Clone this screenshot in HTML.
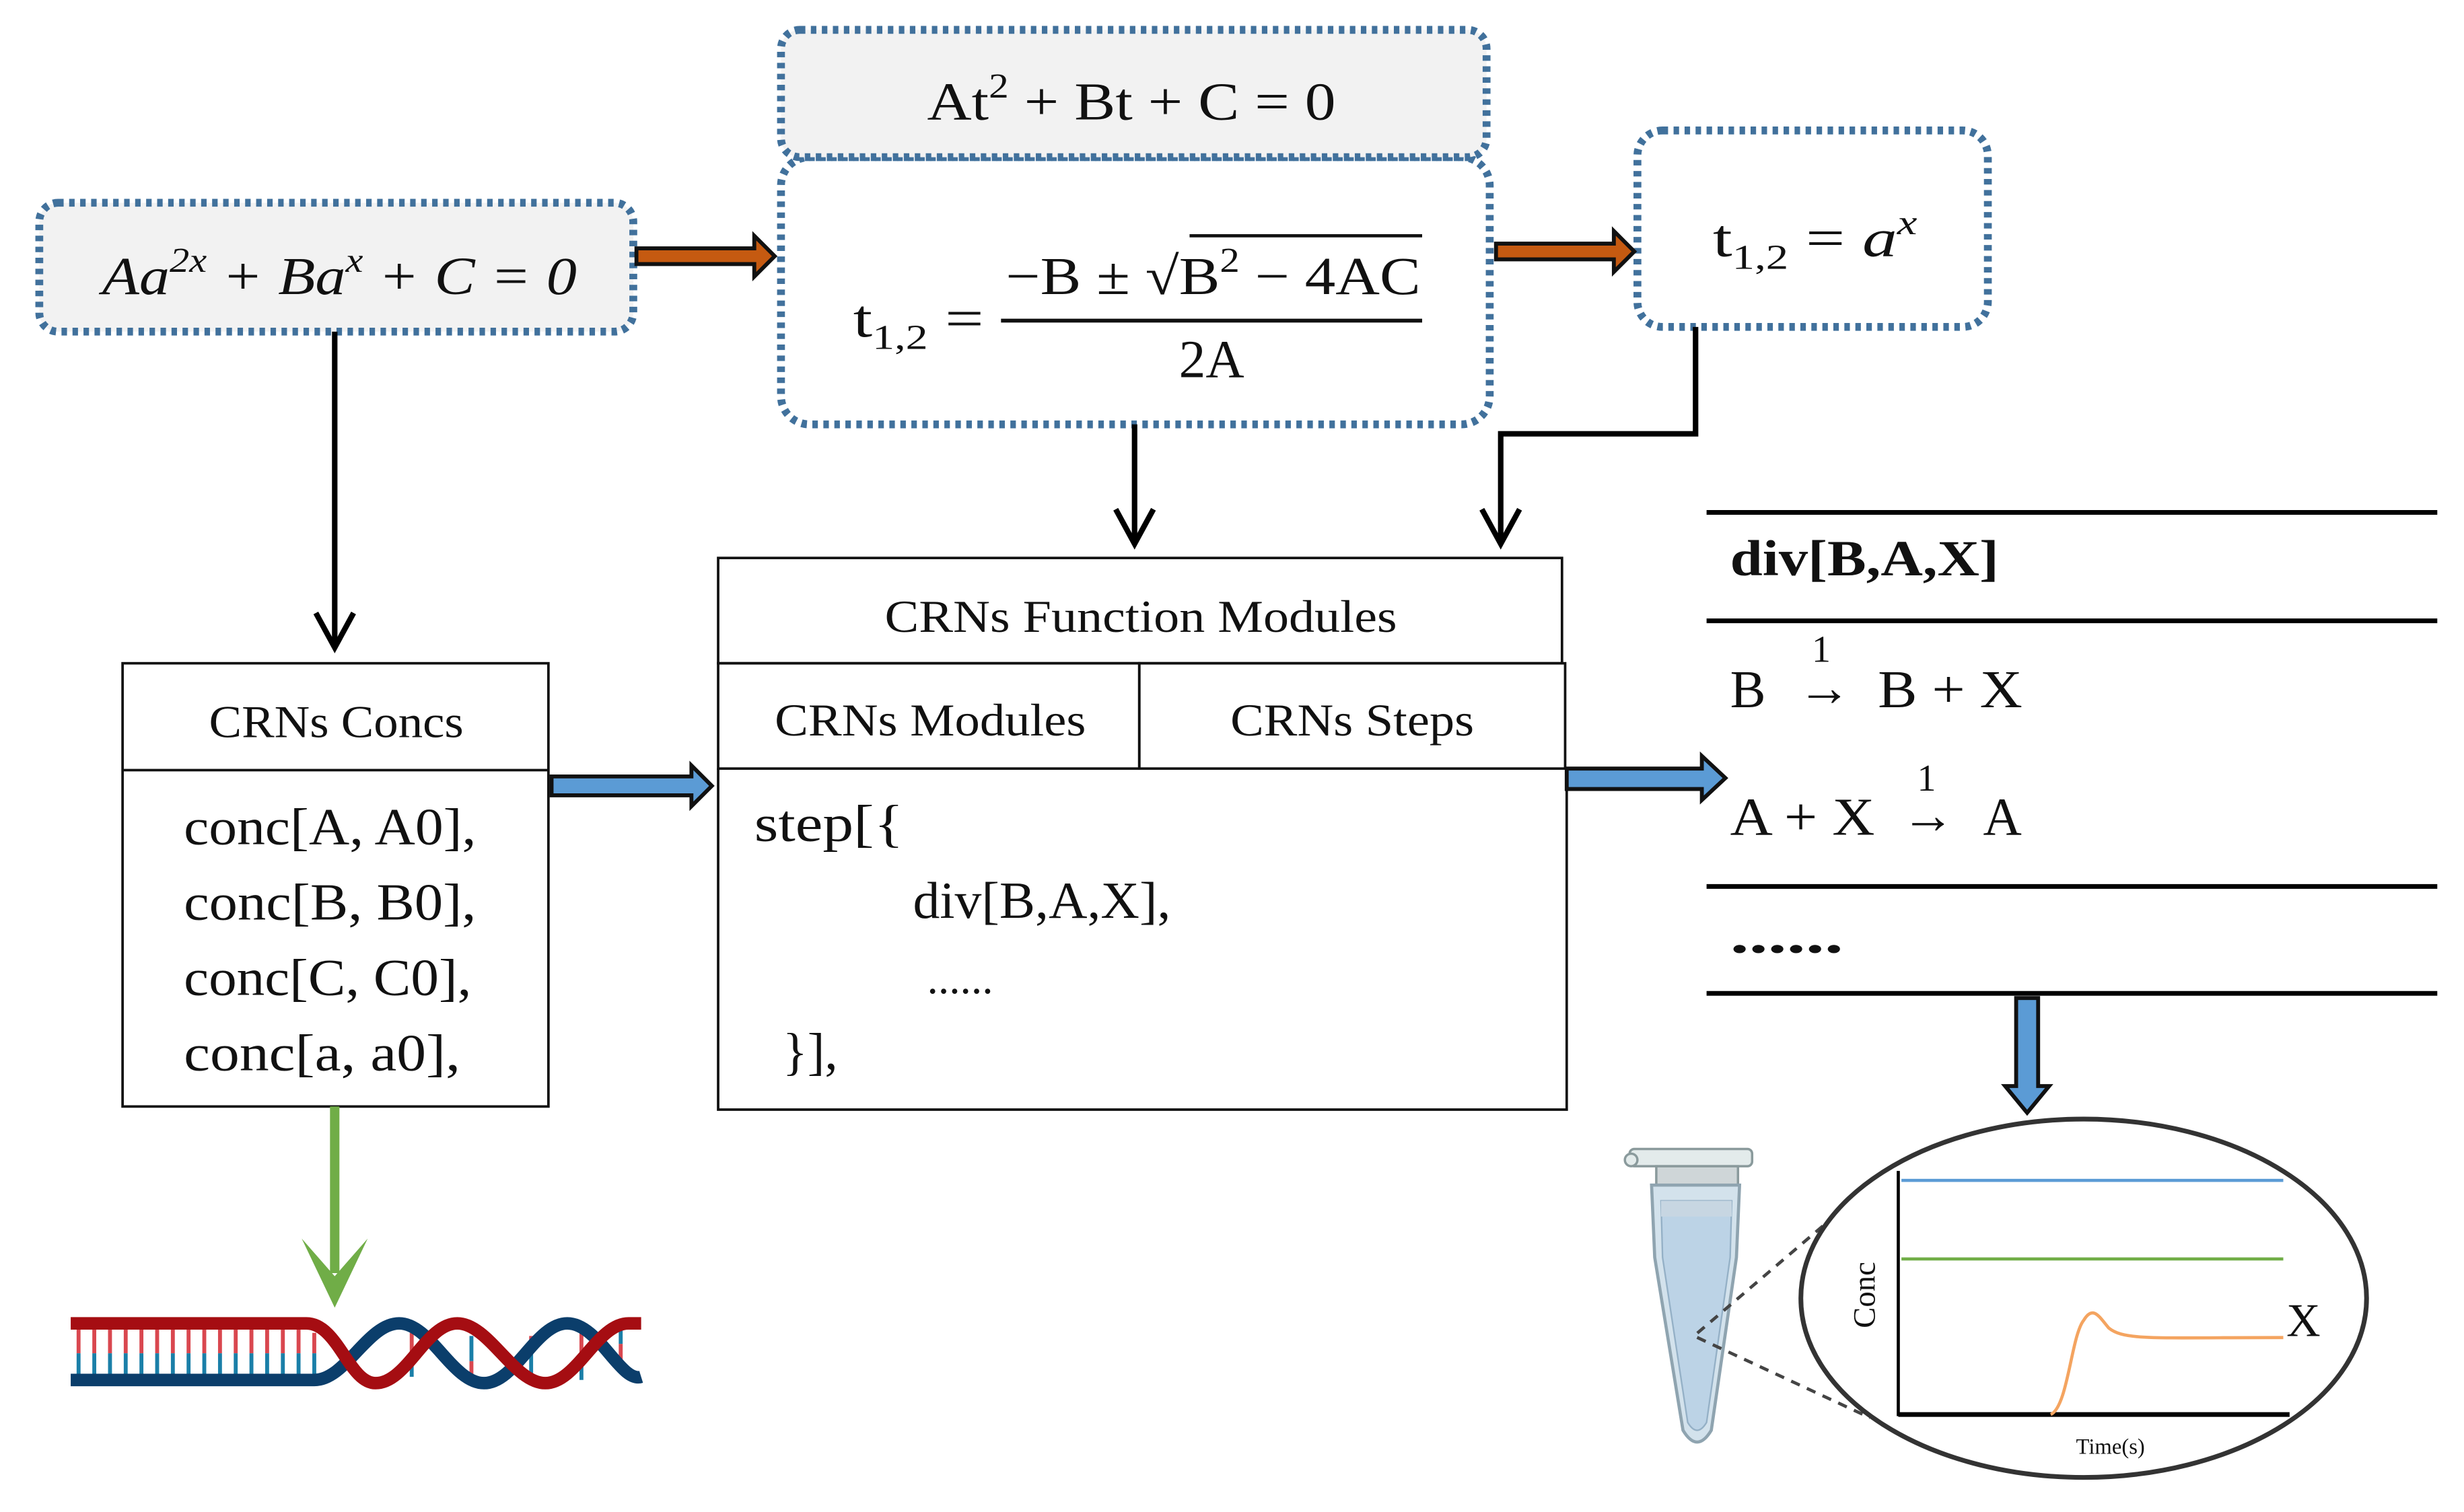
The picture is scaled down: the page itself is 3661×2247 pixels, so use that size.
<!DOCTYPE html>
<html><head><meta charset="utf-8"><style>
html,body{margin:0;padding:0;background:#fff;}
svg{display:block;}
text{font-family:"Liberation Serif",serif;fill:#111;}
</style></head><body>
<svg width="3661" height="2247" viewBox="0 0 1568 962" preserveAspectRatio="none" xmlns="http://www.w3.org/2000/svg">
<rect width="1568" height="962" fill="#fff"/>
<g fill="none" stroke="#41719c" stroke-width="5" stroke-dasharray="3.5 3.5">
<rect x="25" y="129" width="378" height="82" rx="12" fill="#f2f2f2"/>
<rect x="497" y="100" width="451" height="170" rx="18" fill="#fff"/>
<rect x="497" y="19" width="449" height="81" rx="12" fill="#f2f2f2"/>
<rect x="1042" y="83" width="223" height="125" rx="16" fill="#fff"/>
</g>
<text x="65" y="187" font-size="34" font-style="italic" textLength="302" lengthAdjust="spacingAndGlyphs">Aa<tspan font-size="22" dy="-14">2x</tspan><tspan dy="14"> + Ba</tspan><tspan font-size="22" dy="-14">x</tspan><tspan dy="14"> + C = 0</tspan></text>
<text x="590" y="76" font-size="34" textLength="260" lengthAdjust="spacingAndGlyphs">At<tspan font-size="22" dy="-14">2</tspan><tspan dy="14"> + Bt + C = 0</tspan></text>
<text x="543" y="214" font-size="34" textLength="83" lengthAdjust="spacingAndGlyphs">t<tspan font-size="22" dy="8">1,2</tspan><tspan dy="-8"> =</tspan></text>
<text x="640" y="187" font-size="34" textLength="264" lengthAdjust="spacingAndGlyphs">−B ± √B<tspan font-size="22" dy="-14">2</tspan><tspan dy="14"> − 4AC</tspan></text>
<line x1="757" y1="150" x2="905" y2="150" stroke="#111" stroke-width="2"/>
<line x1="637" y1="204" x2="905" y2="204" stroke="#111" stroke-width="2.5"/>
<text x="771" y="240" font-size="34" text-anchor="middle">2A</text>
<text x="1090" y="163" font-size="34" textLength="130" lengthAdjust="spacingAndGlyphs">t<tspan font-size="22" dy="8">1,2</tspan><tspan dy="-8"> = </tspan><tspan font-style="italic">a</tspan><tspan font-size="22" font-style="italic" dy="-14">x</tspan></text>
<g fill="#c55a11" stroke="#111" stroke-width="2.5" stroke-linejoin="miter">
<path d="M405,158 L480,158 L480,150 L493,163 L480,176 L480,168 L405,168 Z"/>
<path d="M952,155 L1027,155 L1027,147 L1040,160 L1027,173 L1027,165 L952,165 Z"/>
</g>
<g stroke="#000" stroke-width="3.5" fill="none">
<line x1="213" y1="211" x2="213" y2="410"/>
<path d="M201,390 L213,412 L225,390"/>
<line x1="722" y1="270" x2="722" y2="344"/>
<path d="M710,324 L722,346 L734,324"/>
<path d="M1079,208 L1079,276 L955,276 L955,344"/>
<path d="M943,324 L955,346 L967,324"/>
</g>
<g fill="none" stroke="#111" stroke-width="1.6">
<rect x="78" y="422" width="271" height="282"/>
<line x1="78" y1="490" x2="349" y2="490"/>
<rect x="457" y="355" width="537" height="67"/>
<rect x="457" y="422" width="268" height="67"/>
<rect x="725" y="422" width="271" height="67"/>
<path d="M457,489 L457,706 L997,706 L997,489"/>
</g>
<text x="133" y="469" font-size="29" textLength="162" lengthAdjust="spacingAndGlyphs">CRNs Concs</text>
<text x="117" y="537" font-size="33" textLength="186" lengthAdjust="spacingAndGlyphs">conc[A, A0],</text>
<text x="117" y="585" font-size="33" textLength="186" lengthAdjust="spacingAndGlyphs">conc[B, B0],</text>
<text x="117" y="633" font-size="33" textLength="183" lengthAdjust="spacingAndGlyphs">conc[C, C0],</text>
<text x="117" y="681" font-size="33" textLength="176" lengthAdjust="spacingAndGlyphs">conc[a, a0],</text>
<text x="563" y="402" font-size="29" textLength="326" lengthAdjust="spacingAndGlyphs">CRNs Function Modules</text>
<text x="493" y="468" font-size="29" textLength="198" lengthAdjust="spacingAndGlyphs">CRNs Modules</text>
<text x="783" y="468" font-size="29" textLength="155" lengthAdjust="spacingAndGlyphs">CRNs Steps</text>
<text x="480" y="535" font-size="33" textLength="95" lengthAdjust="spacingAndGlyphs">step[{</text>
<text x="581" y="584" font-size="33" textLength="164" lengthAdjust="spacingAndGlyphs">div[B,A,X],</text>
<text x="590" y="632" font-size="28">......</text>
<text x="498" y="680" font-size="33">}],</text>
<g fill="#5b9bd5" stroke="#111" stroke-width="2.5">
<path d="M351,494 L440,494 L440,487 L453,500 L440,513 L440,506 L351,506 Z"/>
<path d="M997,489 L1083,489 L1083,481 L1098,495 L1083,509 L1083,502 L997,502 Z"/>
<path d="M1283,635 L1297,635 L1297,691 L1304,691 L1290,708 L1276,691 L1283,691 Z"/>
</g>
<g stroke="#000" stroke-width="3">
<line x1="1086" y1="326" x2="1551" y2="326"/>
<line x1="1086" y1="395" x2="1551" y2="395"/>
<line x1="1086" y1="564" x2="1551" y2="564"/>
<line x1="1086" y1="632" x2="1551" y2="632"/>
</g>
<text x="1101" y="366" font-size="32" font-weight="bold" textLength="171" lengthAdjust="spacingAndGlyphs">div[B,A,X]</text>
<text x="1101" y="450" font-size="34">B</text>
<text x="1144" y="449" font-size="34">→</text>
<text x="1153" y="421" font-size="24">1</text>
<text x="1195" y="450" font-size="34" textLength="92" lengthAdjust="spacingAndGlyphs">B + X</text>
<text x="1101" y="531" font-size="34" textLength="92" lengthAdjust="spacingAndGlyphs">A + X</text>
<text x="1210" y="530" font-size="34">→</text>
<text x="1220" y="503" font-size="24">1</text>
<text x="1262" y="531" font-size="34">A</text>
<text x="1101" y="606" font-size="32" font-weight="bold" textLength="72" lengthAdjust="spacingAndGlyphs">......</text>
<!-- tube -->
<g>
<rect x="1037" y="731" width="78" height="11" rx="3" fill="#e3ebeb" stroke="#8a9a9c" stroke-width="1.5"/>
<circle cx="1038" cy="738" r="4" fill="#e3ebeb" stroke="#8a9a9c" stroke-width="1.5"/>
<rect x="1054" y="742" width="52" height="12" fill="#cfd6d8" stroke="#8a9a9c" stroke-width="1.5"/>
<path d="M1051,754 L1107,754 L1105,800 L1089,910 Q1080,925 1071,910 L1053,800 Z" fill="#d3e2ec" stroke="#8fa4b0" stroke-width="2"/>
<path d="M1057,764 L1102,764 L1101,800 L1086,905 Q1080,915 1074,905 L1058,800 Z" fill="#bcd3e6" stroke="#94b0c6" stroke-width="1"/>
<rect x="1057" y="764" width="45" height="10" fill="#c7d6e2"/>
</g>
<g stroke="#444" stroke-width="2" stroke-dasharray="6 5" fill="none">
<path d="M1160,780 L1078,850 L1190,902"/>
</g>
<ellipse cx="1326" cy="826" rx="180" ry="114" fill="none" stroke="#333" stroke-width="3"/>
<line x1="1208" y1="745" x2="1208" y2="901" stroke="#000" stroke-width="2"/>
<line x1="1208" y1="900" x2="1457" y2="900" stroke="#000" stroke-width="3"/>
<line x1="1210" y1="751" x2="1453" y2="751" stroke="#5b9bd5" stroke-width="2"/>
<line x1="1210" y1="801" x2="1453" y2="801" stroke="#70ad47" stroke-width="2"/>
<path d="M1305,900 C1316,895 1318,850 1326,840 C1332,830 1336,838 1342,845 C1352,853 1370,851 1453,851" fill="none" stroke="#f4a460" stroke-width="2"/>
<text x="1455" y="850" font-size="30">X</text>
<text x="0" y="0" font-size="20" transform="translate(1193,845) rotate(-90)">Conc</text>
<text x="1343" y="925" font-size="14" text-anchor="middle">Time(s)</text>
<!-- DNA -->
<g stroke-width="2.5">
<g stroke="#d9474f">
<path d="M50,846V861M60,846V861M70,846V861M80,846V861M90,846V861M100,846V861M110,846V861M120,846V861M130,846V861M140,846V861M150,846V861M160,846V861M170,846V861M180,846V861M190,846V861M200,848V861M262,848V861M300,866V880M338,850V861M370,848V861M395,855V870"/>
</g>
<g stroke="#1a7fa8">
<path d="M50,861V874M60,861V874M70,861V874M80,861V874M90,861V874M100,861V874M110,861V874M120,861V874M130,861V874M140,861V874M150,861V874M160,861V874M170,861V874M180,861V874M190,861V874M200,861V874M262,861V876M300,850V866M338,861V876M370,861V878M395,845V855"/>
</g>
</g>
<line x1="213" y1="704" x2="213" y2="810" stroke="#70ad47" stroke-width="6"/>
<path d="M192,788 L213,832 L234,788 L213,812 Z" fill="#70ad47"/>
<path d="M45,878 L200,878 C220,878 234,842 254,842 C274,842 288,880 308,880 C328,880 341,842 361,842 C381,842 395,880 408,876" fill="none" stroke="#0b3e6b" stroke-width="8"/>
<path d="M45,842 L195,842 C215,842 222,880 239,880 C259,880 271,842 291,842 C311,842 327,880 347,880 C367,880 380,842 400,842 L408,842" fill="none" stroke="#a50d12" stroke-width="8"/>
</svg>
</body></html>
